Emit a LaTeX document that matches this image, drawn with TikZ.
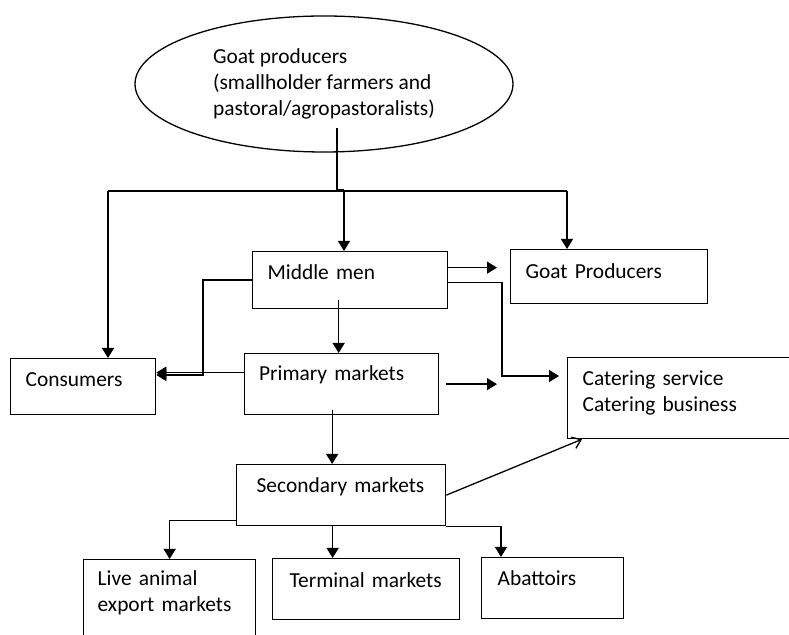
\documentclass[tikz,border=0pt]{standalone}
\usepackage{fontspec}
\setmainfont{Carlito}
\usetikzlibrary{arrows.meta,shapes.geometric}
\hyphenpenalty=10000
\exhyphenpenalty=10000

\begin{document}
\begin{tikzpicture}[x=0.5pt,y=-0.5pt,line width=0.65pt,
    font=\fontsize{10.7}{13}\selectfont,
    blk/.style={draw,anchor=north west,align=left,inner ysep=0pt,inner xsep=7.5pt},
    arr/.style={-{Triangle[width=6pt,length=5pt]}},
    thinarr/.style={-{Straight Barb[width=6pt,length=4pt]}}]
  \useasboundingbox (0,0) rectangle (789,635);
  \node[draw,ellipse,minimum width=189pt,minimum height=68pt,inner sep=0pt,align=left] (gp) at (324,84)
    {Goat producers\\(smallholder farmers and\\pastoral/agropastoralists)};
  \node[blk,text width=57.5pt,text height=14pt,text depth=14pt] (cons) at (10,358) {Consumers};
  \node[blk,text width=82.5pt,text height=14pt,text depth=14.5pt] (mid) at (252,251) {Middle men};
  \node[blk,text width=83.5pt,text height=14.5pt,text depth=12.5pt] (gprod) at (510,249) {Goat Producers};
  \node[blk,inner xsep=7.25pt,text width=82.5pt,text height=13.5pt,text depth=17pt] (prim) at (244,353) {Primary markets};
  \node[blk,text width=110pt,text height=14pt,text depth=26.5pt] (cater) at (567,357) {Catering service\\Catering business};
  \node[blk,inner xsep=10pt,text width=84.5pt,text height=13.75pt,text depth=16.75pt] (sec) at (236,464) {Secondary~markets};
  \node[blk,inner xsep=7pt,text width=72pt,text height=13pt,text depth=40pt] (live) at (83,559) {Live animal\\export markets};
  \node[blk,inner xsep=8.5pt,text width=76.5pt,text height=14.5pt,text depth=16pt] (term) at (272,558) {Terminal~markets};
  \node[blk,inner xsep=8pt,text width=55pt,text height=14pt,text depth=16.5pt] (abat) at (481,557) {Abattoirs};

  % split below the producers
  \coordinate (gp-out) at (337,128);
  \coordinate (jog) at (344,190);
  \coordinate (spl-l) at (108,191);
  \coordinate (spl-r) at (567,191);
  \draw (gp-out) |- (jog);
  \draw (spl-l) -- (spl-r);
  \draw[arr] (jog) -- (jog |- mid.north);
  \draw[arr] (spl-l) -- (spl-l |- cons.north);
  \draw[arr] (spl-r) -- (spl-r |- gprod.north);

  % middle men
  \coordinate (mc) at (203,375);
  \coordinate (mid-s) at ([xshift=-5.75pt,yshift=4.5pt]mid.south);
  \coordinate (mid-e1) at ([yshift=6.25pt]mid.east);
  \coordinate (mid-e2) at ([yshift=-1.25pt]mid.east);
  \coordinate (mcat) at (502,376);
  \draw[arr] (mid.west) -| (mc) -- (mc -| cons.east);
  \draw[arr] (mid-s) -- (mid-s |- prim.north);
  \draw[arr,shorten >=6.5pt] (mid-e1) -- (mid-e1 -| gprod.west);
  \draw[arr,shorten >=4pt] (mid-e2) -| (mcat) -- (mcat -| cater.west);

  % primary markets
  \coordinate (prim-w) at ([yshift=5.75pt]prim.west);
  \coordinate (prim-s) at ([xshift=-4.75pt,yshift=2.5pt]prim.south);
  \draw[arr] (prim-w) -- (prim-w -| cons.east);
  \draw[arr,shorten <=3.5pt,shorten >=35pt] (prim.east) -- (prim.east -| cater.west);
  \draw[arr] (prim-s) -- (prim-s |- sec.north);

  % secondary markets
  \coordinate (sec-w) at ([yshift=2.75pt]sec.south west);
  \coordinate (sec-s) at ([xshift=-4.25pt]sec.south);
  \draw[thinarr] (sec.east) -- ([xshift=7.5pt]cater.south west);
  \draw[arr] (sec-w) -| (live.north);
  \draw[arr] (sec-s) -- (sec-s |- term.north);
  \draw[arr] (sec.south east) -| ([xshift=10pt]abat.north west);
\end{tikzpicture}
\end{document}
